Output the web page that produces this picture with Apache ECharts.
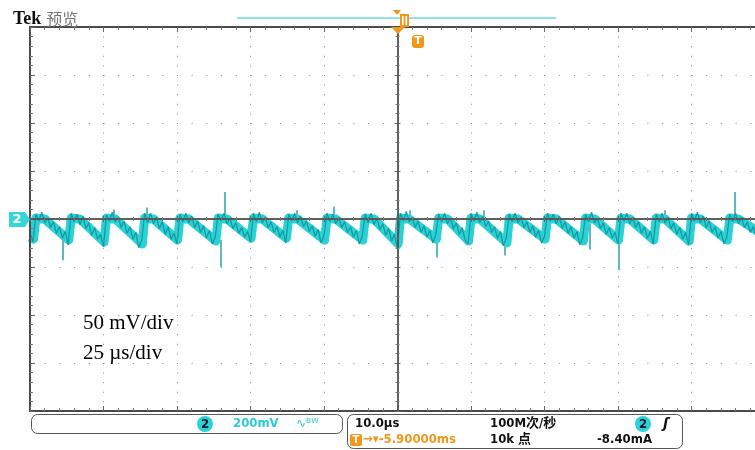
<!DOCTYPE html>
<html><head><meta charset="utf-8">
<script src="https://cdn.jsdelivr.net/npm/echarts@6/dist/echarts.min.js"></script>
<style>html,body{margin:0;padding:0;background:#fff}#c{width:755px;height:450px}</style>
</head><body><div id="c"></div>
<script>
// time axis: µs relative to trigger (25 µs/div, 10 div); voltage: mV (50 mV/div, 8 div)
const timeRange = [-125, 125];
const timeDiv = 25;
const voltRange = [-200, 200];
const voltDiv = 50;
const sampleStart = -125;   // µs
const sampleStep = 1;       // µs per sample
// CH2 raw trace samples (mV)
const trace = [
  -14, -24,
  5, -2, 7, -4, 1, -9, -3, -15, -8, -20, -13, -27,
  6, -3, 5, -6, 3, -10, -4, -17, -9, -21, -16, -29,
  4, -2, 7, -3, 2, -9, -2, -15, -8, -21, -14, -30, -22,
  6, -4, 6, -5, 2, -10, -3, -16, -8, -21, -15, -26,
  5, -3, 6, -4, 3, -9, -2, -14, -7, -20, -12, -26, -19,
  5, -2, 6, -5, 1, -10, -4, -15, -9, -19, -13, -24,
  6, -3, 7, -4, 2, -9, -3, -14, -8, -19, -12, -25,
  5, -2, 6, -4, 3, -8, -2, -13, -7, -18, -11, -25, -17,
  6, -3, 5, -5, 2, -9, -3, -14, -8, -19, -12, -26, -18,
  5, -4, 6, -6, 1, -11, -5, -17, -10, -23, -16, -31,
  6, -2, 8, -3, 2, -9, -2, -14, -7, -19, -12, -25, -17,
  5, -3, 6, -5, 1, -10, -4, -16, -9, -22, -26,
  6, -2, 7, -4, 3, -8, -2, -14, -8, -20, -13, -28, -20,
  5, -3, 6, -4, 2, -9, -3, -14, -7, -19, -12, -25, -18,
  6, -2, 5, -5, 3, -10, -3, -15, -8, -20, -13, -27, -19,
  5, -3, 7, -4, 1, -10, -4, -16, -9, -20, -14, -26,
  6, -2, 6, -5, 2, -9, -3, -15, -8, -20, -13, -26,
  5, -3, 6, -4, 2, -10, -4, -16, -9, -21, -14, -27,
  6, -2, 7, -4, 3, -9, -2, -14, -8, -20, -13, -26, -19,
  5, -3, 6, -5, 2, -9, -3, -14, -8, -19, -12, -24, -17
];
// mean level of the noisy band (µs, mV): trough before each edge, top after edge
const bandTime = [
  -125, -123.8, -123, -120,
  -111.8, -111, -108,  -99.8, -99, -96,  -86.8, -86, -83,  -74.8, -74, -71,
  -61.8, -61, -58,  -49.8, -49, -46,  -37.8, -37, -34,  -24.8, -24, -21,
  -11.8, -11, -8,  0.2, 1, 4,  13.2, 14, 17,  24.2, 25, 28,
  37.2, 38, 41,  50.2, 51, 54,  63.2, 64, 67,  75.2, 76, 79,
  87.2, 88, 91,  99.2, 100, 103,  112.2, 113, 116,  125
];
const bandLevel = [
  -19, -21, 1, 0,
  -22, 1, 0,  -24, 1, 0,  -26, 1, 0,  -22, 1, 0,
  -23, 1, 0,  -20, 1, 0,  -20, 1, 0,  -22, 1, 0,
  -22, 1, 0,  -26, 1, 0,  -21, 1, 0,  -23, 1, 0,
  -25, 1, 0,  -21, 1, 0,  -23, 1, 0,  -22, 1, 0,
  -22, 1, 0,  -23, 1, 0,  -22, 1, 0,  -18
];
// glitches: [time µs, from mV, to mV]
const spikes = [
  [-113.9, -18, -43], [-96.6, 2, 10], [-85.4, 2, 12], [-60.2, -22, -50],
  [-58.8, 2, 28], [-34.4, 2, 9], [-21.8, 2, 13], [4.1, 2, 9],
  [13.3, -22, -40], [29.3, 2, 9], [36.4, -22, -38], [65.3, -5, -32],
  [75.2, -22, -53], [90.8, 2, 9], [114.6, 2, 28]
];
const headerBrand = 'Tek';
const headerMode = '预览';
const annotLines = ['50 mV/div', '25 µs/div'];
const chLabel = '2';
const chScale = '200mV';
const timebase = '10.0µs';
const sampleRate = '100M次/秒';
const trigPos = '-5.90000ms';
const recLen = '10k 点';
const trigLevel = '-8.40mA';

const traceData = trace.map((v, i) => [sampleStart + i * sampleStep, v]);
const bandData = bandTime.map((t, i) => [t, bandLevel[i]]);

const GRID = {left: 30, top: 27, width: 735, height: 384, outerBoundsMode: 'none', containLabel: false};
const ORANGE = '#f2961c';
const CYAN = '#2bd2d5';
const SCOPE_FONT = 'bold 13px "DejaVu Sans Condensed", "DejaVu Sans", sans-serif';

function edgeX(pos) {
  return {
    type: 'value', gridIndex: 0, position: pos, min: timeRange[0], max: timeRange[1], interval: timeDiv,
    axisLine: {onZero: false, lineStyle: {color: '#4a4a4a', width: 2}},
    axisTick: {show: true, inside: true, length: 5, lineStyle: {color: '#666'}},
    minorTick: {show: true, splitNumber: 5, length: 3, lineStyle: {color: '#777'}},
    axisLabel: {show: false},
    splitLine: {show: pos === 'bottom', lineStyle: {color: '#8c8c8c', width: 1, type: [1, 8.6]}},
    z: 4
  };
}
function centerX(pos) {
  return {
    type: 'value', gridIndex: 1, position: pos, min: timeRange[0], max: timeRange[1], interval: timeDiv,
    axisLine: {onZero: true, lineStyle: {color: '#555', width: 1.5}},
    axisTick: {show: true, inside: true, length: 3, lineStyle: {color: '#666'}},
    minorTick: {show: true, splitNumber: 5, length: 2, lineStyle: {color: '#777'}},
    axisLabel: {show: false}, splitLine: {show: false}, z: 5
  };
}
function centerY(pos) {
  return {
    type: 'value', gridIndex: 1, position: pos, min: voltRange[0], max: voltRange[1], interval: voltDiv,
    axisLine: {onZero: true, lineStyle: {color: '#555', width: 1.5}},
    axisTick: {show: true, inside: true, length: 3, lineStyle: {color: '#666'}},
    minorTick: {show: true, splitNumber: 5, length: 2, lineStyle: {color: '#777'}},
    axisLabel: {show: false}, splitLine: {show: false}, z: 5
  };
}

function txt(x, y, text, fill, font, align) {
  return {type: 'text', x: x, y: y, z: 20, style: {text: text, fill: fill, font: font || SCOPE_FONT, align: align || 'left', verticalAlign: 'middle'}};
}

const chart = echarts.init(document.getElementById('c'), null, {renderer: 'canvas'});
chart.setOption({
  animation: false,
  backgroundColor: '#fff',
  title: {
    text: '{a|' + headerBrand + '} {b|' + headerMode + '}', left: 8, top: 5,
    textStyle: {rich: {
      a: {fontFamily: 'Liberation Serif, Times New Roman, serif', fontWeight: 'bold', fontSize: 18, color: '#111'},
      b: {fontFamily: 'Noto Sans CJK SC, sans-serif', fontWeight: 'normal', fontSize: 16, color: '#777'}
    }}
  },
  grid: [Object.assign({}, GRID), Object.assign({}, GRID)],
  xAxis: [edgeX('bottom'), edgeX('top'), centerX('bottom'), centerX('top')],
  yAxis: [
    {
      type: 'value', gridIndex: 0, position: 'left', min: voltRange[0], max: voltRange[1], interval: voltDiv,
      axisLine: {onZero: false, lineStyle: {color: '#4a4a4a', width: 2}},
      axisTick: {show: true, inside: true, length: 5, lineStyle: {color: '#666'}},
      minorTick: {show: true, splitNumber: 5, length: 3, lineStyle: {color: '#777'}},
      axisLabel: {show: false},
      splitLine: {show: true, lineStyle: {color: '#8c8c8c', width: 1, type: [1, 13.7]}},
      z: 4
    },
    centerY('left'), centerY('right')
  ],
  series: [
    {
      name: 'CH2 band', type: 'line', xAxisIndex: 0, yAxisIndex: 0, data: bandData,
      showSymbol: false, symbol: 'none', z: 2,
      lineStyle: {color: CYAN, width: 9, join: 'round', cap: 'butt'}
    },
    {
      name: 'CH2', type: 'line', xAxisIndex: 0, yAxisIndex: 0, data: traceData,
      showSymbol: false, symbol: 'none', z: 3,
      lineStyle: {color: '#13949a', width: 1.3, opacity: 0.9}
    },
    {
      name: 'glitch', type: 'lines', coordinateSystem: 'cartesian2d', xAxisIndex: 0, yAxisIndex: 0, z: 2,
      data: spikes.map(s => ({coords: [[s[0], s[1]], [s[0], s[2]]]})),
      lineStyle: {color: '#2aa4a8', width: 1.5, opacity: 1}
    }
  ],
  graphic: [
    // record-view bar and trigger markers
    {type: 'line', z: 10, shape: {x1: 237, y1: 18, x2: 556, y2: 18}, style: {stroke: '#8fe4e7', lineWidth: 2}},
    {type: 'polygon', z: 11, shape: {points: [[393, 10], [401, 10], [397, 15]]}, style: {fill: ORANGE}},
    {type: 'rect', z: 11, shape: {x: 400, y: 14, width: 9, height: 13}, style: {fill: ORANGE}},
    {type: 'rect', z: 12, shape: {x: 402, y: 16, width: 1.6, height: 9}, style: {fill: '#fff'}},
    {type: 'rect', z: 12, shape: {x: 405.5, y: 16, width: 1.6, height: 9}, style: {fill: '#fff'}},
    {type: 'polygon', z: 11, shape: {points: [[391, 27], [405, 27], [398, 34]]}, style: {fill: ORANGE}},
    {type: 'rect', z: 11, shape: {x: 412, y: 35, width: 12, height: 13, r: 3}, style: {fill: ORANGE}},
    txt(418, 41.5, 'T', '#fff', 'bold 11px "DejaVu Sans", sans-serif', 'center'),
    // channel 2 ground marker
    {type: 'polygon', z: 11, shape: {points: [[9, 212], [25, 212], [30, 219.5], [25, 227], [9, 227]]}, style: {fill: '#35d5d8'}},
    txt(17, 220, chLabel, '#fff', 'bold 13px "DejaVu Sans", sans-serif', 'center'),
    // annotation
    txt(83, 323, annotLines[0], '#000', '21px "Liberation Serif", "Times New Roman", serif'),
    txt(83, 353, annotLines[1], '#000', '21px "Liberation Serif", "Times New Roman", serif'),
    // status bar box 1
    {type: 'rect', z: 10, shape: {x: 31.5, y: 414.5, width: 311, height: 19, r: 6}, style: {fill: '#fff', stroke: '#555', lineWidth: 1}},
    {type: 'circle', z: 11, shape: {cx: 205, cy: 424, r: 8}, style: {fill: CYAN}},
    txt(205, 424.5, chLabel, '#113', SCOPE_FONT, 'center'),
    txt(233, 424, chScale, '#2ccbd0', SCOPE_FONT),
    txt(296, 424, '∿ᴮᵂ', '#2ccbd0', '12px "DejaVu Sans", sans-serif'),
    // status bar box 2
    {type: 'rect', z: 10, shape: {x: 347.5, y: 414.5, width: 335, height: 34, r: 6}, style: {fill: '#fff', stroke: '#555', lineWidth: 1}},
    txt(355, 424, timebase, '#111', SCOPE_FONT),
    txt(490, 424, sampleRate, '#111', 'bold 13px "DejaVu Sans Condensed", "Noto Sans CJK SC", sans-serif'),
    {type: 'circle', z: 11, shape: {cx: 643, cy: 424, r: 8}, style: {fill: CYAN}},
    txt(643, 424.5, chLabel, '#113', SCOPE_FONT, 'center'),
    txt(663, 424, 'ʃ', '#111', 'bold italic 14px "DejaVu Sans", sans-serif'),
    {type: 'rect', z: 11, shape: {x: 350, y: 434, width: 12, height: 12, r: 2}, style: {fill: ORANGE}},
    txt(356, 440.5, 'T', '#fff', 'bold 10px "DejaVu Sans", sans-serif', 'center'),
    txt(363, 440, '→▾' + trigPos, ORANGE, SCOPE_FONT),
    txt(490, 440, recLen, '#111', 'bold 13px "DejaVu Sans Condensed", "Noto Sans CJK SC", sans-serif'),
    txt(597, 440, trigLevel, '#111', SCOPE_FONT)
  ]
});
</script></body></html>
